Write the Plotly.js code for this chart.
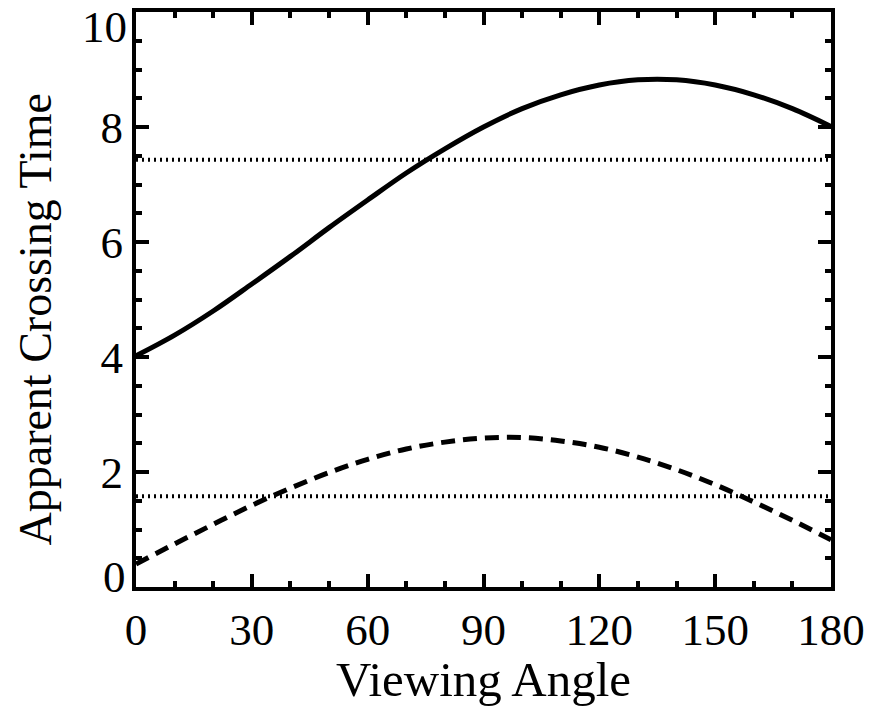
<!DOCTYPE html>
<html>
<head>
<meta charset="utf-8">
<script src="https://cdn.plot.ly/plotly-3.0.1.min.js"></script>
<style>html,body{margin:0;padding:0;background:#fff;}#chart{width:871px;height:707px;}</style>
</head>
<body>
<div id="chart"></div>
<script>
const angles = [0,10,20,30,40,50,60,70,80,90,100,110,120,130,140,150,160,170,180];
const solidTime = [4.02,4.38,4.80,5.27,5.75,6.25,6.73,7.20,7.62,8.00,8.32,8.56,8.73,8.82,8.82,8.73,8.56,8.32,8.01];
const dashedTime = [0.40,0.75,1.09,1.42,1.72,1.99,2.22,2.40,2.52,2.59,2.60,2.54,2.43,2.26,2.04,1.78,1.48,1.16,0.82];
const dottedLevels = [7.43, 1.58];
const xTickVals = [0,30,60,90,120,150,180];
const yTickVals = [0,2,4,6,8,10];
const xTitle = 'Viewing Angle';
const yTitle = 'Apparent Crossing Time';

const traces = [
  {x: angles, y: solidTime, mode: 'lines', line: {color: '#000', width: 5, shape: 'spline'}},
  {x: angles, y: dashedTime, mode: 'lines', line: {color: '#000', width: 5, dash: '14px,8px', shape: 'spline'}}
];
dottedLevels.forEach(v => {
  traces.push({x: [angles[0], angles[angles.length-1]], y: [v, v], mode: 'lines', line: {color: '#000', width: 4, dash: '2px,4px'}});
});

const font = {family: '"Liberation Serif", "Times New Roman", serif', color: '#000'};
const f = s => Object.assign({size: s}, font);
const yMin = yTickVals[0], yMax = yTickVals[yTickVals.length-1];

const layout = {
  width: 871, height: 707,
  margin: {l: 136, r: 40, t: 12, b: 120},
  paper_bgcolor: '#fff', plot_bgcolor: '#fff',
  showlegend: false,
  font: f(45),
  xaxis: {
    range: [0, 180], tickvals: xTickVals, ticktext: xTickVals.map(String),
    ticks: 'inside', ticklen: 13, tickwidth: 4, tickcolor: '#000',
    showline: true, linewidth: 4, linecolor: '#000', mirror: 'ticks',
    showgrid: false, zeroline: false, ticklabeloverflow: 'allow',
    tickfont: f(45),
    minor: {dtick: 10, ticks: 'inside', ticklen: 6, tickwidth: 4, tickcolor: '#000', showgrid: false},
    title: {text: xTitle, font: f(49), standoff: 4}
  },
  yaxis: {
    range: [yMin, yMax], tickvals: yTickVals,
    ticktext: yTickVals.map(v => (v === yMin || v === yMax) ? '' : String(v)),
    ticks: 'inside', ticklen: 13, tickwidth: 4, tickcolor: '#000',
    showline: true, linewidth: 4, linecolor: '#000', mirror: 'ticks',
    showgrid: false, zeroline: false,
    tickfont: f(45),
    minor: {dtick: 0.5, ticks: 'inside', ticklen: 6, tickwidth: 4, tickcolor: '#000', showgrid: false}
  },
  annotations: [
    {text: String(yMax), xref: 'paper', x: 0, xanchor: 'right', xshift: -8,
     yref: 'paper', y: 1, yanchor: 'top', yshift: 11, borderpad: 0, showarrow: false, font: f(45)},
    {text: String(yMin), xref: 'paper', x: 0, xanchor: 'right', xshift: -8,
     yref: 'paper', y: 0, yanchor: 'middle', yshift: 10, showarrow: false, font: f(45)},
    {text: yTitle, textangle: -90, xref: 'paper', x: 0, xanchor: 'center', xshift: -101,
     yref: 'paper', y: 0.5, yanchor: 'middle', yshift: -20, showarrow: false, font: f(46)}
  ]
};
Plotly.newPlot('chart', traces, layout, {staticPlot: true, displayModeBar: false});
</script>
</body>
</html>
